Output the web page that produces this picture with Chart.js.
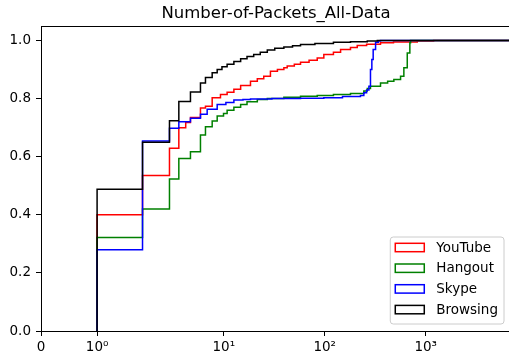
<!DOCTYPE html>
<html>
<head>
<meta charset="utf-8">
<script src="https://cdn.jsdelivr.net/npm/chart.js@4.4.1/dist/chart.umd.min.js"></script>
<style>
    html, body { margin: 0; padding: 0; background: #fff; overflow: hidden; }
    #wrap { width: 509px; height: 362px; overflow: hidden; position: relative; }
    #wrap canvas { position: absolute; left: 0; top: 0; }
</style>
</head>
<body>
<div id="wrap"><canvas id="cdfChart" width="530" height="362"></canvas></div>
<script>
// CDF of number of packets per flow
var youtubeX = [1, 1, 1.81, 2.90, 3.59, 4.2, 4.68, 5.88, 6.59, 7.68, 9.28, 10.8, 12.6, 14.7, 18.4, 21.5, 24.9, 29.0, 34, 39.4, 42.5, 50, 57.6, 70, 84.3, 98, 122, 143.6, 180, 210, 260, 357, 480, 825, 1198, 7000];
var youtubeY = [0, 0.40, 0.535, 0.629, 0.700, 0.718, 0.735, 0.768, 0.774, 0.803, 0.814, 0.822, 0.832, 0.845, 0.860, 0.868, 0.877, 0.894, 0.900, 0.906, 0.912, 0.918, 0.925, 0.932, 0.940, 0.952, 0.960, 0.969, 0.976, 0.983, 0.987, 0.992, 0.995, 0.998, 1.0, 1.0];

var hangoutX = [1, 1, 1.81, 2.90, 3.59, 4.68, 5.88, 6.59, 7.68, 8.61, 9.95, 10.8, 12.6, 14.7, 17, 21.5, 27, 39.4, 57.6, 84.3, 122, 180, 244, 264, 284, 357, 420, 484, 564, 608, 657, 697, 709, 7000];
var hangoutY = [0, 0.322, 0.42, 0.523, 0.594, 0.617, 0.675, 0.703, 0.723, 0.740, 0.749, 0.760, 0.770, 0.780, 0.789, 0.797, 0.800, 0.805, 0.808, 0.811, 0.814, 0.818, 0.826, 0.835, 0.843, 0.854, 0.860, 0.866, 0.877, 0.906, 0.957, 0.992, 1.0, 1.0];

var skypeX = [1, 1, 1.81, 2.90, 3.59, 4.68, 5.88, 6.85, 8.61, 10.5, 12.6, 15.5, 18.4, 30, 57.6, 98, 150, 226, 244, 260, 274, 284, 293, 302, 319, 340, 357, 7000];
var skypeY = [0, 0.28, 0.654, 0.698, 0.720, 0.732, 0.746, 0.763, 0.780, 0.787, 0.795, 0.797, 0.799, 0.800, 0.801, 0.803, 0.807, 0.811, 0.820, 0.830, 0.843, 0.900, 0.935, 0.969, 0.994, 0.998, 1.0, 1.0];

var browsingX = [1, 1, 1.81, 2.90, 3.59, 4.68, 5.88, 6.59, 7.68, 8.61, 9.6, 10.8, 12.6, 14.7, 17, 19.8, 23, 27.0, 32, 39.4, 48, 57.6, 80, 122, 180, 264, 332, 7000];
var browsingY = [0, 0.488, 0.650, 0.724, 0.790, 0.823, 0.854, 0.873, 0.889, 0.900, 0.910, 0.918, 0.928, 0.937, 0.945, 0.952, 0.960, 0.967, 0.973, 0.978, 0.982, 0.986, 0.990, 0.994, 0.996, 0.998, 1.0, 1.0];

var seriesLabels = ['YouTube', 'Hangout', 'Skype', 'Browsing'];
var seriesColors = ['#ff0000', '#008000', '#0000ff', '#000000'];

var xTickValues = [0, 1, 10, 100, 1000];
var xTickLabels = ['0', '10\u2070', '10\u00b9', '10\u00b2', '10\u00b3'];
var yTickValues = [0, 0.2, 0.4, 0.6, 0.8, 1.0];

var FONT = "'DejaVu Sans', sans-serif";

// symlog transform (linthresh 2, linscale 1) like matplotlib's
var LINTHRESH = 2;
var LINSCALE_ADJ = 1 / (1 - 1 / 10);
function symT(v) {
    if (v <= LINTHRESH) return v * LINSCALE_ADJ;
    return LINTHRESH * (LINSCALE_ADJ + Math.log10(v / LINTHRESH));
}
function symInv(t) {
    if (t <= LINTHRESH * LINSCALE_ADJ) return t / LINSCALE_ADJ;
    return LINTHRESH * Math.pow(10, t / LINTHRESH - LINSCALE_ADJ);
}

class SymlogScale extends Chart.LinearScale {
    buildTicks() {
        return xTickValues.map(function (v) { return { value: v }; });
    }
    getPixelForValue(value) {
        var a = symT(this.min), b = symT(this.max);
        return this.getPixelForDecimal((symT(value) - a) / (b - a));
    }
    getValueForPixel(pixel) {
        var a = symT(this.min), b = symT(this.max);
        return symInv(a + this.getDecimalForPixel(pixel) * (b - a));
    }
}
SymlogScale.id = 'symlog';
SymlogScale.defaults = Chart.LinearScale.defaults;
Chart.register(SymlogScale);

function toPoints(xs, ys) {
    return xs.map(function (x, i) { return { x: x, y: ys[i] }; });
}

var allX = [youtubeX, hangoutX, skypeX, browsingX];
var allY = [youtubeY, hangoutY, skypeY, browsingY];

var datasets = seriesLabels.map(function (label, i) {
    return {
        label: label,
        data: toPoints(allX[i], allY[i]),
        borderColor: seriesColors[i],
        backgroundColor: seriesColors[i],
        borderWidth: 1.5,
        pointRadius: 0,
        stepped: 'before',
        fill: false,
        order: seriesLabels.length - 1 - i
    };
});

// frame (matplotlib spines) + legend box in the lower right corner
var framePlugin = {
    id: 'frameAndLegend',
    afterDatasetsDraw: function (chart) {
        var ctx = chart.ctx, ca = chart.chartArea;
        ctx.save();
        ctx.strokeStyle = '#000';
        ctx.lineWidth = 1;
        ctx.strokeRect(Math.round(ca.left) + 0.5, Math.round(ca.top) + 0.5,
            Math.round(ca.right - ca.left), Math.round(ca.bottom - ca.top));

        ctx.font = '13.5px ' + FONT;
        var maxW = 0;
        seriesLabels.forEach(function (l) { maxW = Math.max(maxW, ctx.measureText(l).width); });
        var rowH = 20.7;
        var boxW = 5 + 29 + 12 + maxW + 6;
        var boxH = 87;
        var bx = ca.right - 7 - boxW;
        var by = ca.bottom - 7 - boxH;
        var r = 3;
        ctx.beginPath();
        ctx.moveTo(bx + r, by);
        ctx.arcTo(bx + boxW, by, bx + boxW, by + boxH, r);
        ctx.arcTo(bx + boxW, by + boxH, bx, by + boxH, r);
        ctx.arcTo(bx, by + boxH, bx, by, r);
        ctx.arcTo(bx, by, bx + boxW, by, r);
        ctx.closePath();
        ctx.fillStyle = 'rgba(255,255,255,0.8)';
        ctx.fill();
        ctx.strokeStyle = '#cccccc';
        ctx.lineWidth = 1;
        ctx.stroke();

        chart.data.datasets.forEach(function (ds, i) {
            var cy = by + 10.5 + i * rowH;
            ctx.fillStyle = '#fff';
            ctx.fillRect(bx + 5, cy - 4.2, 29, 8.4);
            ctx.strokeStyle = ds.borderColor;
            ctx.lineWidth = 1.5;
            ctx.strokeRect(bx + 5, cy - 4.2, 29, 8.4);
            ctx.fillStyle = '#000';
            ctx.textBaseline = 'middle';
            ctx.textAlign = 'left';
            ctx.fillText(ds.label, bx + 46, cy + 0.5);
        });
        ctx.restore();
    }
};

document.addEventListener('DOMContentLoaded', function () {
    var ctx = document.getElementById('cdfChart');
    new Chart(ctx, {
        type: 'line',
        data: { datasets: datasets },
        plugins: [framePlugin],
        options: {
            responsive: false,
            animation: false,
            devicePixelRatio: 1,
            events: [],
            layout: { padding: { left: 0, right: 19, top: 0, bottom: 0 } },
            plugins: {
                legend: { display: false },
                tooltip: { enabled: false },
                title: {
                    display: true,
                    text: 'Number-of-Packets_All-Data',
                    fullSize: false,
                    color: '#000',
                    font: { family: FONT, size: 16.5, weight: 'normal' },
                    padding: { top: 3.5, bottom: 2.7 }
                }
            },
            scales: {
                x: {
                    type: 'symlog',
                    min: 0,
                    max: 7000,
                    grid: { drawOnChartArea: false, drawTicks: true, tickLength: 5, color: '#000' },
                    border: { display: true, color: '#000', width: 1 },
                    ticks: {
                        autoSkip: false,
                        maxRotation: 0,
                        color: '#000',
                        padding: 3,
                        font: { family: FONT, size: 13.5 },
                        callback: function (v) {
                            var k = xTickValues.indexOf(v);
                            return k >= 0 ? xTickLabels[k] : '';
                        }
                    },
                    afterFit: function (scale) { scale.height = 31; }
                },
                y: {
                    type: 'linear',
                    min: 0,
                    max: 1.05,
                    grid: { drawOnChartArea: false, drawTicks: true, tickLength: 5, color: '#000' },
                    border: { display: true, color: '#000', width: 1 },
                    afterBuildTicks: function (scale) {
                        scale.ticks = yTickValues.map(function (v) { return { value: v }; });
                    },
                    ticks: {
                        color: '#000',
                        padding: 5,
                        font: { family: FONT, size: 13.5 },
                        callback: function (v) { return Number(v).toFixed(1); }
                    },
                    afterFit: function (scale) { scale.width = 41; }
                }
            }
        }
    });
});
</script>
</body>
</html>
